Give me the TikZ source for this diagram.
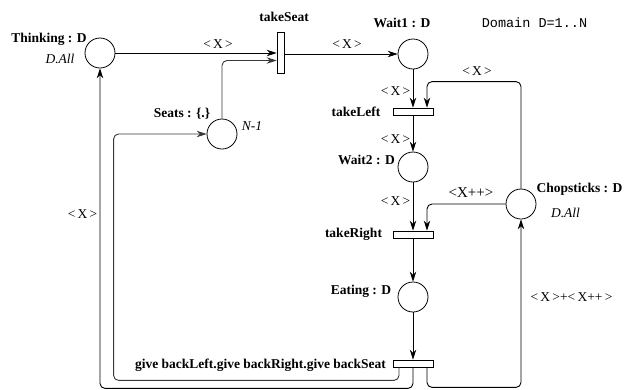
\documentclass[tikz,border=0pt]{standalone}
\usepackage{fontspec}
\setmainfont{Liberation Serif}
\setmonofont{Liberation Mono}
\usetikzlibrary{calc,arrows.meta}
\begin{document}
\begin{tikzpicture}[x=1pt,y=-1pt,
  every node/.style={font=\fontsize{13.5}{16}\selectfont},
  place/.style={draw,circle,line width=0.8pt,minimum size=30pt,inner sep=0pt,fill=white},
  vtrans/.style={draw,rectangle,line width=0.8pt,minimum width=7pt,minimum height=41pt,inner sep=0pt,fill=white},
  htrans/.style={draw,rectangle,line width=0.8pt,minimum width=40pt,minimum height=7pt,inner sep=0pt,fill=white},
  lbl/.style={anchor=base,inner sep=0pt},
  bl/.style={lbl,font=\fontsize{13.5}{16}\selectfont\bfseries},
  il/.style={lbl,font=\fontsize{13.5}{16}\selectfont\itshape},
  arc/.style={line width=0.9pt,-{Stealth[length=10pt,width=6.5pt]},rounded corners=5pt},
  grayarc/.style={arc,draw=black!78}]
\useasboundingbox (0,0) rectangle (633,389);
% places and transitions
\node[place] (Thinking) at (100,53) {};
\node[vtrans] (takeSeat) at (280.5,52.5) {};
\node[place] (Seats) at (222,134) {};
\node[place] (Wait1) at (413,54) {};
\node[htrans] (takeLeft) at (413,111.5) {};
\node[place] (Wait2) at (413,167) {};
\node[htrans] (takeRight) at (413,234.5) {};
\node[place] (Eating) at (413,297) {};
\node[htrans] (giveback) at (413,363.5) {};
\node[place] (Chopsticks) at (521,204) {};
% labels
\node[bl] (lThinking) at (49,42) {Thinking : D};
\node[il] (lThinkingM) at (60,63) {D.All};
\node[bl] (ltakeSeat) at (284,21.7) {takeSeat};
\node[bl] (lSeats) at (182,117) {Seats : \{.\}};
\node[il] (lSeatsM) at (252,130) {N-1};
\node[bl] (lWait1) at (402,27) {Wait1 : D};
\node[lbl,font=\fontsize{13.5}{16}\selectfont\ttfamily] (ldomain) at (534.5,27) {Domain D=1..N};
\node[bl] (ltakeLeft) at (356,116) {takeLeft};
\node[bl] (lWait2) at (366.5,164) {Wait2 : D};
\node[bl] (ltakeRight) at (353.5,237) {takeRight};
\node[bl] (lEating) at (361,294) {Eating : D};
\node[bl] (lgive) at (260.5,368) {give backLeft.give backRight.give backSeat};
\node[bl] (lChop) at (579.5,192.5) {Chopsticks : D};
\node[il] (lChopM) at (565.5,217) {D.All};
% arc labels
\node[lbl] (a1) at (218,48) {<\,X\,>};
\node[lbl] (a2) at (347,48) {<\,X\,>};
\node[lbl] (a3) at (395.5,95) {<\,X\,>};
\node[lbl] (a4) at (477,75) {<\,X\,>};
\node[lbl] (a5) at (395.5,143) {<\,X\,>};
\node[lbl] (a6) at (395.5,205) {<\,X\,>};
\node[lbl,font=\fontsize{15}{17}\selectfont] (a7) at (471,197) {<X++>};
\node[lbl] (a8) at (571.5,301) {<\,X\,>+<\,X++\,>};
\node[lbl] (a9) at (82.5,218) {<\,X\,>};
% arcs
\draw[arc] (Thinking.east) -- (takeSeat.west |- Thinking.east);
\draw[grayarc] (Seats.north) |- ($(takeSeat.west)+(0,8)$);
\draw[arc] (takeSeat.east |- Wait1.west) -- (Wait1.west);
\draw[arc] (Wait1.south) -- (takeLeft.north);
\draw[arc] (Chopsticks.north) |- ($(takeLeft.north)+(14,-26)$) -- ($(takeLeft.north)+(14,0)$);
\draw[arc] (takeLeft.south) -- (Wait2.north);
\draw[arc] (Wait2.south) -- (takeRight.north);
\draw[arc] (Chopsticks.west) -| ($(takeRight.north)+(14,0)$);
\draw[arc] (takeRight.south) -- (Eating.north);
\draw[arc] (Eating.south) -- (giveback.north);
\draw[arc] ($(giveback.south)+(14,0)$) -- ++(0,20) -| (Chopsticks.south);
\draw[grayarc] ($(giveback.south)+(-14,0)$) -- ++(0,13) -| ($(Seats.west)+(-93,0)$) -- (Seats.west);
\draw[arc] (giveback.south) -- ++(0,21) -| (Thinking.south);
\end{tikzpicture}
\end{document}
